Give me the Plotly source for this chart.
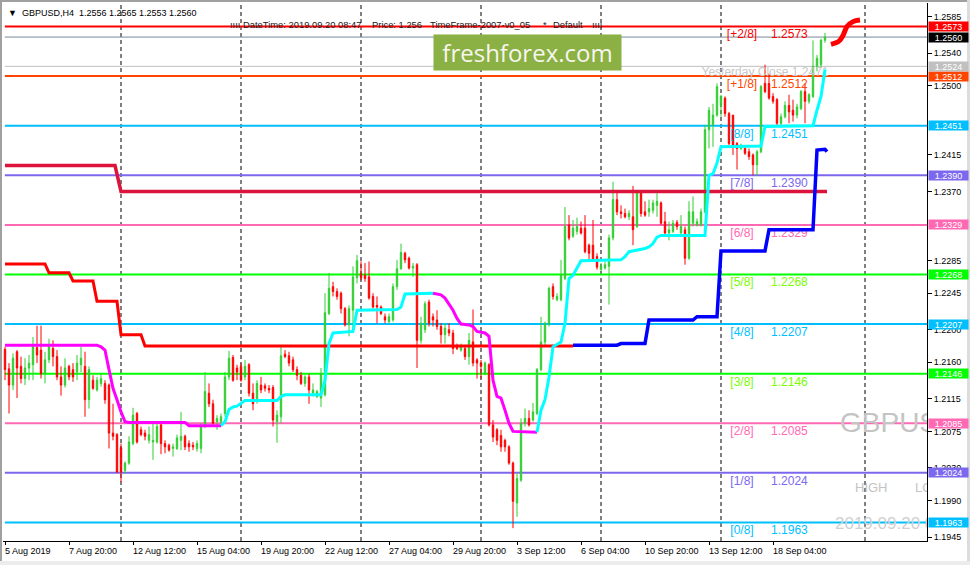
import plotly.graph_objects as go

# ---------------- data ----------------
OPEN = [1.2176,1.2152,1.2132,1.2173,1.2155,1.2140,1.2153,1.2157,1.2178,1.2175,
        1.2146,1.2163,1.2177,1.2167,1.2142,1.2132,1.2155,1.2151,1.2148,1.2157,
        1.2155,1.2114,1.2138,1.2126,1.2134,1.2134,1.2132,1.2073,1.2071,1.2055,
        1.2027,1.2036,1.2060,1.2097,1.2077,1.2073,1.2064,1.2062,1.2062,1.2083,
        1.2060,1.2058,1.2054,1.2054,1.2064,1.2069,1.2060,1.2058,1.2054,1.2054,
        1.2081,1.2122,1.2109,1.2087,1.2087,1.2097,1.2142,1.2166,1.2153,1.2155,
        1.2142,1.2157,1.2122,1.2114,1.2132,1.2131,1.2128,1.2129,1.2087,1.2093,
        1.2170,1.2168,1.2163,1.2151,1.2144,1.2134,1.2142,1.2122,1.2118,1.2116,
        1.2120,1.2220,1.2253,1.2247,1.2245,1.2226,1.2206,1.2224,1.2264,1.2269,
        1.2267,1.2265,1.2241,1.2230,1.2228,1.2216,1.2210,1.2212,1.2253,1.2275,
        1.2294,1.2288,1.2276,1.2280,1.2187,1.2200,1.2234,1.2216,1.2212,1.2204,
        1.2194,1.2200,1.2196,1.2179,1.2175,1.2177,1.2167,1.2185,1.2163,1.2159,
        1.2146,1.2157,1.2083,1.2077,1.2070,1.2064,1.2056,1.2036,1.1987,1.2015,
        1.2085,1.2091,1.2089,1.2097,1.2151,1.2185,1.2208,1.2253,1.2237,1.2237,
        1.2263,1.2329,1.2315,1.2321,1.2325,1.2325,1.2304,1.2304,1.2290,1.2274,
        1.2276,1.2278,1.2313,1.2360,1.2345,1.2343,1.2339,1.2339,1.2327,1.2370,
        1.2345,1.2345,1.2347,1.2353,1.2356,1.2333,1.2319,1.2321,1.2332,1.2319,
        1.2323,1.2288,1.2331,1.2329,1.2329,1.2345,1.2446,1.2452,1.2464,1.2476,
        1.2485,1.2466,1.2464,1.2429,1.2423,1.2423,1.2419,1.2415,1.2403,1.2419,
        1.2503,1.2503,1.2487,1.2483,1.2454,1.2462,1.2476,1.2470,1.2464,1.2472,
        1.2493,1.2481,1.2487,1.2524,1.2526,1.2556]
HIGH = [1.2179,1.2159,1.2171,1.2175,1.2167,1.2165,1.2169,1.2191,1.2205,1.2205,
        1.2173,1.2189,1.2187,1.2175,1.2155,1.2165,1.2157,1.2159,1.2169,1.2179,
        1.2173,1.2155,1.2144,1.2142,1.2146,1.2138,1.2134,1.2109,1.2073,1.2060,
        1.2038,1.2069,1.2104,1.2099,1.2081,1.2077,1.2081,1.2085,1.2087,1.2085,
        1.2064,1.2060,1.2060,1.2071,1.2099,1.2071,1.2064,1.2062,1.2064,1.2085,
        1.2148,1.2134,1.2114,1.2095,1.2097,1.2148,1.2174,1.2169,1.2157,1.2159,
        1.2163,1.2159,1.2134,1.2138,1.2142,1.2134,1.2132,1.2132,1.2101,1.2179,
        1.2175,1.2173,1.2167,1.2155,1.2148,1.2144,1.2146,1.2134,1.2126,1.2153,
        1.2245,1.2270,1.2259,1.2251,1.2247,1.2228,1.2230,1.2278,1.2292,1.2284,
        1.2282,1.2284,1.2245,1.2241,1.2230,1.2220,1.2220,1.2257,1.2286,1.2306,
        1.2296,1.2290,1.2282,1.2282,1.2216,1.2235,1.2237,1.2220,1.2224,1.2208,
        1.2208,1.2208,1.2200,1.2183,1.2183,1.2179,1.2196,1.2225,1.2165,1.2163,
        1.2161,1.2159,1.2089,1.2079,1.2077,1.2066,1.2058,1.2038,1.2023,1.2091,
        1.2103,1.2101,1.2110,1.2153,1.2216,1.2210,1.2253,1.2257,1.2245,1.2286,
        1.2351,1.2341,1.2335,1.2338,1.2333,1.2341,1.2306,1.2335,1.2294,1.2282,
        1.2284,1.2317,1.2382,1.2370,1.2353,1.2349,1.2347,1.2377,1.2372,1.2372,
        1.2358,1.2360,1.2360,1.2368,1.2358,1.2345,1.2333,1.2335,1.2335,1.2341,
        1.2327,1.2358,1.2364,1.2337,1.2349,1.2452,1.2474,1.2478,1.2503,1.2489,
        1.2487,1.2468,1.2464,1.2431,1.2429,1.2427,1.2423,1.2417,1.2421,1.2501,
        1.2526,1.2515,1.2491,1.2485,1.2466,1.2481,1.2489,1.2483,1.2478,1.2495,
        1.2503,1.2491,1.2556,1.2538,1.2558,1.2565]
LOW = [1.2138,1.2097,1.2126,1.2116,1.2134,1.2132,1.2138,1.2138,1.2159,1.2140,
       1.2134,1.2159,1.2155,1.2138,1.2119,1.2129,1.2138,1.2136,1.2138,1.2148,
       1.2093,1.2103,1.2126,1.2124,1.2130,1.2109,1.2054,1.2064,1.2024,1.2013,
       1.2023,1.2034,1.2058,1.2060,1.2069,1.2064,1.2060,1.2040,1.2060,1.2047,
       1.2048,1.2050,1.2044,1.2052,1.2052,1.2052,1.2050,1.2052,1.2050,1.2048,
       1.2079,1.2105,1.2083,1.2077,1.2081,1.2093,1.2138,1.2136,1.2138,1.2136,
       1.2138,1.2118,1.2101,1.2109,1.2122,1.2124,1.2122,1.2081,1.2061,1.2085,
       1.2165,1.2155,1.2148,1.2138,1.2132,1.2130,1.2109,1.2118,1.2116,1.2105,
       1.2118,1.2218,1.2241,1.2237,1.2220,1.2204,1.2192,1.2196,1.2257,1.2261,
       1.2259,1.2237,1.2226,1.2208,1.2218,1.2208,1.2208,1.2210,1.2249,1.2274,
       1.2282,1.2274,1.2265,1.2153,1.2183,1.2196,1.2204,1.2204,1.2200,1.2183,
       1.2183,1.2192,1.2170,1.2175,1.2173,1.2163,1.2157,1.2155,1.2140,1.2140,
       1.2144,1.2081,1.2062,1.2058,1.2050,1.2050,1.2034,1.1956,1.1970,1.2013,
       1.2081,1.2081,1.2087,1.2095,1.2149,1.2181,1.2204,1.2237,1.2235,1.2235,
       1.2261,1.2310,1.2313,1.2317,1.2317,1.2294,1.2286,1.2284,1.2274,1.2272,
       1.2274,1.2231,1.2310,1.2341,1.2337,1.2337,1.2335,1.2304,1.2325,1.2339,
       1.2339,1.2339,1.2343,1.2339,1.2329,1.2317,1.2310,1.2319,1.2323,1.2318,
       1.2280,1.2286,1.2327,1.2327,1.2327,1.2343,1.2423,1.2425,1.2462,1.2462,
       1.2462,1.2427,1.2415,1.2397,1.2421,1.2415,1.2409,1.2390,1.2390,1.2417,
       1.2491,1.2483,1.2478,1.2452,1.2450,1.2460,1.2454,1.2456,1.2460,1.2470,
       1.2454,1.2478,1.2485,1.2518,1.2522,1.2553]
CLOSE = [1.2151,1.2132,1.2165,1.2153,1.2140,1.2153,1.2159,1.2179,1.2169,1.2146,
         1.2163,1.2179,1.2167,1.2142,1.2132,1.2153,1.2142,1.2142,1.2159,1.2165,
         1.2114,1.2151,1.2128,1.2138,1.2140,1.2114,1.2073,1.2069,1.2025,1.2025,
         1.2036,1.2062,1.2095,1.2062,1.2071,1.2069,1.2071,1.2064,1.2081,1.2060,
         1.2056,1.2052,1.2056,1.2067,1.2069,1.2056,1.2056,1.2056,1.2060,1.2081,
         1.2124,1.2109,1.2085,1.2091,1.2093,1.2142,1.2165,1.2138,1.2148,1.2138,
         1.2155,1.2122,1.2109,1.2134,1.2126,1.2128,1.2126,1.2089,1.2095,1.2168,
         1.2167,1.2159,1.2151,1.2144,1.2134,1.2142,1.2126,1.2126,1.2124,1.2146,
         1.2221,1.2251,1.2247,1.2241,1.2226,1.2206,1.2226,1.2265,1.2285,1.2264,
         1.2263,1.2239,1.2228,1.2228,1.2220,1.2212,1.2216,1.2253,1.2275,1.2295,
         1.2286,1.2276,1.2278,1.2187,1.2208,1.2232,1.2208,1.2212,1.2204,1.2194,
         1.2202,1.2196,1.2177,1.2177,1.2179,1.2167,1.2187,1.2159,1.2159,1.2155,
         1.2159,1.2083,1.2068,1.2064,1.2056,1.2056,1.2036,1.1989,1.2017,1.2085,
         1.2091,1.2083,1.2099,1.2151,1.2185,1.2208,1.2251,1.2241,1.2241,1.2267,
         1.2327,1.2313,1.2325,1.2327,1.2319,1.2296,1.2294,1.2286,1.2277,1.2278,
         1.2280,1.2313,1.2360,1.2345,1.2343,1.2339,1.2343,1.2323,1.2370,1.2343,
         1.2341,1.2349,1.2356,1.2358,1.2331,1.2319,1.2323,1.2331,1.2327,1.2327,
         1.2288,1.2345,1.2345,1.2333,1.2345,1.2446,1.2470,1.2464,1.2499,1.2487,
         1.2466,1.2429,1.2427,1.2423,1.2427,1.2417,1.2413,1.2403,1.2419,1.2499,
         1.2493,1.2485,1.2481,1.2454,1.2462,1.2476,1.2468,1.2464,1.2474,1.2493,
         1.2481,1.2489,1.2524,1.2534,1.2556,1.2560]
BARS = list(range(len(OPEN)))

XTICK_BARS = [0, 16, 32, 48, 64, 80, 96, 112, 128, 144, 160, 176, 192]
XTICK_LABELS = ["5 Aug 2019", "7 Aug 20:00", "12 Aug 12:00", "15 Aug 04:00", "19 Aug 20:00",
                "22 Aug 12:00", "27 Aug 04:00", "29 Aug 20:00", "3 Sep 12:00", "6 Sep 04:00",
                "10 Sep 20:00", "13 Sep 12:00", "18 Sep 04:00"]
YTICK_VALUES = [1.2585, 1.2540, 1.2500, 1.2415, 1.2370, 1.2285, 1.2245, 1.2200,
                1.2160, 1.2115, 1.2075, 1.2030, 1.1990, 1.1945]

MM_LEVELS = [1.2573, 1.2512, 1.2451, 1.2390, 1.2329, 1.2268, 1.2207, 1.2146, 1.2085, 1.2024, 1.1963]
MM_NAMES = ["[+2/8]", "[+1/8]", "[8/8]", "[7/8]", "[6/8]", "[5/8]", "[4/8]", "[3/8]", "[2/8]", "[1/8]", "[0/8]"]
MM_COLORS = ["#FF0000", "#FF4500", "#00BFFF", "#7B68EE", "#FF69B4", "#00FF00",
             "#00BFFF", "#00FF00", "#FF69B4", "#7B68EE", "#00BFFF"]
MM_TEXT_COLORS = ["#FF0000", "#FF4500", "#00BFFF", "#7B68EE", "#FF69B4", "#7CFC00",
                  "#00BFFF", "#7CFC00", "#FF69B4", "#7B68EE", "#00BFFF"]

CUR_PRICE = 1.2560
YEST_CLOSE = 1.2524
YEST_TEXT = "Yesterday Close 1.2471"
HEADER = "GBPUSD,H4  1.2556 1.2565 1.2553 1.2560"

SEPARATOR_BARS = [29, 59, 89, 119, 149, 179, 215]

CRIMSON_X = [0, 27.5, 29, 205.5]
CRIMSON_Y = [1.2402, 1.2402, 1.2370, 1.2370]

STOP_X = [0, 10, 11, 16, 17, 22, 23, 28, 29, 34, 35, 142]
STOP_Y = [1.2281, 1.2281, 1.2270, 1.2270, 1.2260, 1.2260, 1.2235, 1.2235, 1.2194, 1.2194, 1.2180, 1.2180]

BLUE_X = [142, 153, 154, 160, 161, 172, 173, 178, 179, 190, 191, 202, 203, 205, 205.5]
BLUE_Y = [1.2181, 1.2181, 1.2183, 1.2183, 1.2212, 1.2212, 1.2216, 1.2216, 1.2297, 1.2297,
          1.2323, 1.2323, 1.2421, 1.2422, 1.2419]

DOWN1_X = [0, 23, 24, 25, 26, 27, 28, 29, 30, 31, 45, 46, 54]
DOWN1_Y = [1.2181, 1.2181, 1.2179, 1.2175, 1.2151, 1.2128, 1.2114, 1.2099, 1.2087, 1.2086, 1.2086, 1.2082, 1.2082]
UP1_X = [54, 55, 56, 57, 58, 59, 60, 68, 69, 70, 79, 80, 81, 82, 87, 88, 98, 99, 100, 107]
UP1_Y = [1.2082, 1.2087, 1.2102, 1.2105, 1.2106, 1.2109, 1.2113, 1.2113, 1.2118, 1.2120,
         1.2120, 1.2138, 1.2183, 1.2196, 1.2198, 1.2224, 1.2225, 1.2228, 1.2244, 1.2245]
DOWN2_X = [107, 108, 109, 110, 111, 112, 113, 114, 116, 117, 118, 120, 121, 122, 123, 124, 125, 126, 127, 133]
DOWN2_Y = [1.2245, 1.2244, 1.2243, 1.2239, 1.2232, 1.2224, 1.2214, 1.2207, 1.2206, 1.2204,
           1.2198, 1.2196, 1.2192, 1.2138, 1.2118, 1.2116, 1.2101, 1.2085, 1.2075, 1.2074]
UP2_X = [133, 134, 135, 136, 137, 138, 139, 140, 141, 142, 143, 144, 154, 155, 156, 158, 160,
         161, 162, 163, 164, 175, 176, 177, 178, 179, 189, 190, 202, 203, 204, 205]
UP2_Y = [1.2074, 1.2101, 1.2114, 1.2142, 1.2179, 1.2182, 1.2185, 1.2208, 1.2263, 1.2267,
         1.2276, 1.2285, 1.2286, 1.2290, 1.2296, 1.2298, 1.2300, 1.2302, 1.2306, 1.2314,
         1.2316, 1.2316, 1.2390, 1.2392, 1.2405, 1.2425, 1.2426, 1.2450, 1.2451, 1.2470,
         1.2487, 1.2520]

FORECAST_X = [206.5, 208.5, 209.5, 210.5, 212.0, 213.75]
FORECAST_Y = [1.2551, 1.2555, 1.2562, 1.2573, 1.2579, 1.2581]

# ---------------- layout geometry ----------------
W, H = 970, 565
ML, MR, MT, MB = 3, 43, 3, 24
PW, PH = W - ML - MR, H - MT - MB
X_RANGE = [-0.5, 230.5]
Y_RANGE = [1.19402, 1.26019]
LABEL_DROP = 0.0011   # murrey labels sit a few px under their line
FONT = "Liberation Sans"


def pxx(px):
    return (px - ML) / PW


def pxy(py):
    return (H - MB - py) / PH


fig = go.Figure()

# Murrey labels (behind candles)
fig.add_trace(go.Scatter(x=[184.25] * len(MM_LEVELS), y=[v - LABEL_DROP for v in MM_LEVELS],
                         mode="text", text=MM_NAMES, textposition="middle center",
                         textfont=dict(family=FONT, size=12, color=MM_TEXT_COLORS),
                         hoverinfo="skip", showlegend=False))
fig.add_trace(go.Scatter(x=[196.1] * len(MM_LEVELS), y=[v - LABEL_DROP for v in MM_LEVELS],
                         mode="text", text=["%.4f" % v for v in MM_LEVELS], textposition="middle center",
                         textfont=dict(family=FONT, size=12, color=MM_TEXT_COLORS),
                         hoverinfo="skip", showlegend=False))
fig.add_trace(go.Scatter(x=[190], y=[1.2516], mode="text", text=[YEST_TEXT],
                         textposition="middle center",
                         textfont=dict(family=FONT, size=12, color="#C8C8C8"),
                         hoverinfo="skip", showlegend=False))

# watermark texts (clipped by plot area)
fig.add_trace(go.Scatter(x=[208.75], y=[1.2083], mode="text", text=["GBPUSD"],
                         textposition="middle right", marker=dict(size=1),
                         textfont=dict(family=FONT, size=28, color="#C4C4C4"),
                         hoverinfo="skip", showlegend=False))
fig.add_trace(go.Scatter(x=[212.5, 227.5], y=[1.2005, 1.2005], mode="text", text=["HIGH", "LOW"],
                         textposition="middle right", marker=dict(size=1),
                         textfont=dict(family=FONT, size=13, color="#C4C4C4"),
                         hoverinfo="skip", showlegend=False))
fig.add_trace(go.Scatter(x=[207.5], y=[1.1960], mode="text", text=["2019.09.20 08:47"],
                         textposition="middle right", marker=dict(size=1),
                         textfont=dict(family=FONT, size=17, color="#D0D0D0"),
                         hoverinfo="skip", showlegend=False))

# candles
fig.add_trace(go.Candlestick(
    x=BARS, open=OPEN, high=HIGH, low=LOW, close=CLOSE,
    increasing=dict(line=dict(color="#32CD32", width=1), fillcolor="#32CD32"),
    decreasing=dict(line=dict(color="#FF0000", width=1), fillcolor="#FF0000"),
    whiskerwidth=0, hoverinfo="skip", showlegend=False))

# indicator lines
def add_line(xs, ys, color, width, shape="linear"):
    fig.add_trace(go.Scatter(x=xs, y=ys, mode="lines",
                             line=dict(color=color, width=width, shape=shape),
                             hoverinfo="skip", showlegend=False))

add_line(CRIMSON_X, CRIMSON_Y, "#DC143C", 3.5)
add_line(STOP_X, STOP_Y, "#FF0000", 3)
add_line(DOWN1_X, DOWN1_Y, "#FF00FF", 3)
add_line(UP1_X, UP1_Y, "#00FFFF", 3)
add_line(DOWN2_X, DOWN2_Y, "#FF00FF", 3)
add_line(UP2_X, UP2_Y, "#00FFFF", 3)
add_line(BLUE_X, BLUE_Y, "#0000FF", 3.5)
add_line(FORECAST_X, FORECAST_Y, "#FF0000", 5, "spline")

shapes = []
# weekly separators
for b in SEPARATOR_BARS:
    shapes.append(dict(type="line", xref="x", yref="paper", x0=b, x1=b, y0=0, y1=1,
                       layer="below", line=dict(color="black", width=1, dash="4px,3px")))
# murrey levels
for v, c in zip(MM_LEVELS, MM_COLORS):
    shapes.append(dict(type="line", xref="paper", yref="y", x0=0.002, x1=1, y0=v, y1=v,
                       layer="below", line=dict(color=c, width=2)))
shapes.append(dict(type="line", xref="paper", yref="y", x0=0.002, x1=1, y0=YEST_CLOSE, y1=YEST_CLOSE,
                   layer="below", line=dict(color="#C0C0C0", width=1)))
shapes.append(dict(type="line", xref="paper", yref="y", x0=0.002, x1=1, y0=CUR_PRICE, y1=CUR_PRICE,
                   layer="below", line=dict(color="#778899", width=1)))
# window frame
shapes.append(dict(type="line", xref="paper", yref="paper", x0=pxx(1), x1=pxx(1), y0=pxy(0), y1=pxy(H),
                   line=dict(color="#A0A0A0", width=2)))
shapes.append(dict(type="line", xref="paper", yref="paper", x0=pxx(0), x1=pxx(W), y0=pxy(1), y1=pxy(1),
                   line=dict(color="#A0A0A0", width=2)))
shapes.append(dict(type="line", xref="paper", yref="paper", x0=pxx(968.5), x1=pxx(968.5), y0=pxy(0), y1=pxy(H),
                   line=dict(color="#DCDCDC", width=3)))
shapes.append(dict(type="line", xref="paper", yref="paper", x0=pxx(0), x1=pxx(W), y0=pxy(563), y1=pxy(563),
                   line=dict(color="#ECECEC", width=4)))

annotations = []
# price boxes on the right axis
box_levels = MM_LEVELS + [CUR_PRICE, YEST_CLOSE]
box_colors = MM_COLORS + ["#000000", "#C0C0C0"]
for v, c in zip(box_levels, box_colors):
    annotations.append(dict(xref="paper", yref="y", x=1, y=v, xanchor="left", yanchor="middle",
                            xshift=1, text="%.4f" % v, showarrow=False, bgcolor=c,
                            width=39, height=9, borderpad=0, align="center",
                            font=dict(family=FONT, size=9, color="white")))
# x labels
for b, t in zip(XTICK_BARS, XTICK_LABELS):
    annotations.append(dict(xref="x", yref="paper", x=b, y=0, xanchor="left", yanchor="middle",
                            xshift=-2, yshift=-10, text=t, showarrow=False,
                            font=dict(family=FONT, size=9, color="black")))
# header
annotations.append(dict(xref="paper", yref="paper", x=pxx(6), y=pxy(13), xanchor="left", yanchor="middle",
                        text="▼  " + HEADER, showarrow=False,
                        font=dict(family=FONT, size=9, color="black")))
# info line
info_parts = [(230, "ıııı"), (243, "DateTime: 2019.09.20 08:47"), (372, "Price: 1.256"),
              (430, "TimeFrame-2007-v0_05"), (543, "*"), (553, "Default"), (592, "ıııı")]
for px, t in info_parts:
    annotations.append(dict(xref="paper", yref="paper", x=pxx(px), y=pxy(24.5), xanchor="left",
                            yanchor="middle", xshift=-2, text=t, showarrow=False,
                            font=dict(family=FONT, size=9.4, color="#202020")))
# freshforex badge
annotations.append(dict(xref="paper", yref="paper", x=pxx(527.5), y=pxy(52.5), xanchor="center",
                        yanchor="middle", text="freshforex.com", showarrow=False,
                        width=187, height=35, borderpad=0, bgcolor="#8BB043",
                        font=dict(family="Open Sans", size=24, color="#F6F6EE")))

fig.update_layout(
    width=W, height=H, margin=dict(l=ML, r=MR, t=MT, b=MB),
    paper_bgcolor="white", plot_bgcolor="white",
    showlegend=False, hovermode=False, boxgap=0.5,
    shapes=shapes, annotations=annotations,
    xaxis=dict(range=X_RANGE, type="linear", rangeslider=dict(visible=False),
               showgrid=False, zeroline=False, showline=True, linecolor="black", linewidth=1,
               ticks="outside", ticklen=3, tickcolor="black", tickvals=XTICK_BARS,
               showticklabels=False, fixedrange=True),
    yaxis=dict(range=Y_RANGE, side="right", showgrid=False, zeroline=False,
               showline=True, linecolor="black", linewidth=1, ticks="outside", ticklen=4,
               tickcolor="black", tickvals=YTICK_VALUES, tickformat=".4f",
               tickfont=dict(family=FONT, size=9, color="black"), fixedrange=True),
)

fig.write_html("out.html", config={"displayModeBar": False},
               post_script="document.body.style.margin='0';document.body.style.padding='0';"
                           "document.body.style.overflow='hidden';")
